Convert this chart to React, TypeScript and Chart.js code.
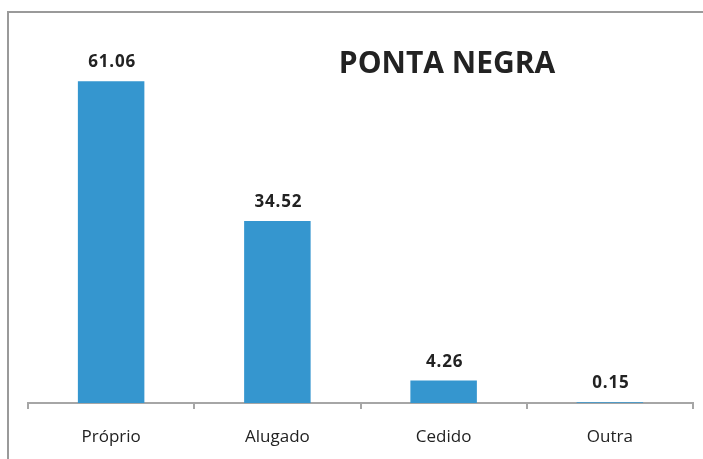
import React, { useEffect, useRef } from "react";
import { Chart, registerables } from "chart.js";

Chart.register(...registerables);

const categories = ["Próprio", "Alugado", "Cedido", "Outra"];
const values = [61.06, 34.52, 4.26, 0.15];
const title = "PONTA NEGRA";

const framePlugin = {
  id: "frame",
  beforeDraw(chart: any) {
    const ctx = chart.ctx;
    ctx.save();
    ctx.strokeStyle = "#9a9a9a";
    ctx.lineWidth = 2;
    ctx.beginPath();
    ctx.moveTo(8, chart.height);
    ctx.lineTo(8, 12);
    ctx.lineTo(chart.width, 12);
    ctx.stroke();
    ctx.restore();
  },
  afterDraw(chart: any) {
    const ctx = chart.ctx;
    ctx.save();
    ctx.fillStyle = "#222222";
    ctx.font = "bold 30px 'Open Sans'";
    ctx.textAlign = "center";
    ctx.textBaseline = "alphabetic";
    ctx.fillText(title, 447, 73);
    const meta = chart.getDatasetMeta(0);
    ctx.font = "bold 17px 'Open Sans'";
    try {
      (ctx as any).letterSpacing = "0.8px";
    } catch (e) {}
    meta.data.forEach((bar: any, i: number) => {
      ctx.fillText(values[i].toFixed(2), bar.x + 1, bar.y - 14);
    });
    ctx.restore();
  },
};

export default function App() {
  const ref = useRef<HTMLCanvasElement>(null);
  useEffect(() => {
    if (!ref.current) return;
    const chart = new Chart(ref.current, {
      type: "bar",
      data: {
        labels: categories,
        datasets: [
          {
            data: values,
            backgroundColor: "#3596CF",
            barPercentage: 0.4,
            categoryPercentage: 1,
          },
        ],
      },
      options: {
        animation: false,
        responsive: false,
        layout: { padding: { left: 28, right: 10, top: 34, bottom: 0 } },
        plugins: { legend: { display: false }, tooltip: { enabled: false } },
        scales: {
          x: {
            afterFit(scale: any) {
              scale.height = 56;
            },
            grid: {
              display: true,
              drawOnChartArea: false,
              drawTicks: true,
              tickLength: 6,
              color: "#a6a6a6",
              lineWidth: 2,
            },
            border: { display: true, color: "#a6a6a6", width: 2 },
            ticks: {
              color: "#222222",
              font: { family: "'Open Sans'", size: 17 },
              padding: 18,
            },
          },
          y: {
            display: false,
            min: 0,
            max: 70,
          },
        },
      },
      plugins: [framePlugin],
    });
    return () => chart.destroy();
  }, []);
  return (
    <div style={{ position: "absolute", left: 0, top: 0, width: 703, height: 459 }}>
      <canvas ref={ref} width={703} height={459} />
    </div>
  );
}
